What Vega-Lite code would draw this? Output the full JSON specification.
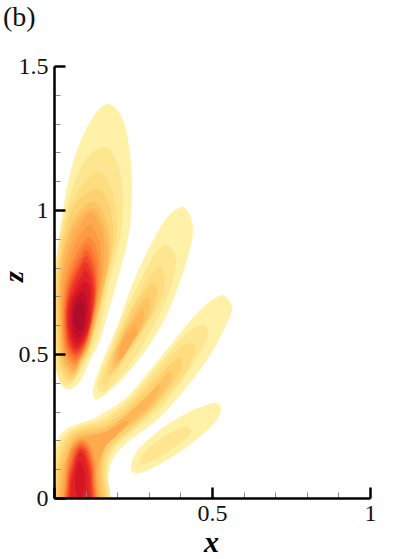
{"$schema":"https://vega.github.io/schema/vega-lite/v6.json","width":316,"height":432,"autosize":"none","padding":{"left":54,"top":66,"right":49,"bottom":61},"background":"white",
"title":{"text":"(b)","anchor":"start","frame":"group","font":"Liberation Serif","fontSize":28,"fontWeight":"normal","color":"#111111","dx":-51,"offset":22},
"config":{"view":{"stroke":null}},
"data":{"values":[
{"g":"A1","l":1,"x":0.171,"z":1.368},{"g":"A1","l":1,"x":0.215,"z":1.323},{"g":"A1","l":1,"x":0.237,"z":1.226},{"g":"A1","l":1,"x":0.247,"z":1.104},{"g":"A1","l":1,"x":0.244,"z":0.986},{"g":"A1","l":1,"x":0.231,"z":0.882},{"g":"A1","l":1,"x":0.203,"z":0.764},{"g":"A1","l":1,"x":0.171,"z":0.642},{"g":"A1","l":1,"x":0.146,"z":0.549},{"g":"A1","l":1,"x":0.114,"z":0.479},{"g":"A1","l":1,"x":0.082,"z":0.403},{"g":"A1","l":1,"x":0.044,"z":0.378},{"g":"A1","l":1,"x":0.013,"z":0.417},{"g":"A1","l":1,"x":-0.013,"z":0.549},{"g":"A1","l":1,"x":-0.013,"z":0.687},{"g":"A1","l":1,"x":0.0,"z":0.746},{"g":"A1","l":1,"x":0.009,"z":0.837},{"g":"A1","l":1,"x":0.025,"z":0.976},{"g":"A1","l":1,"x":0.044,"z":1.094},{"g":"A1","l":1,"x":0.073,"z":1.208},{"g":"A1","l":1,"x":0.123,"z":1.323},
{"g":"A2","l":2,"x":0.155,"z":1.219},{"g":"A2","l":2,"x":0.196,"z":1.174},{"g":"A2","l":2,"x":0.218,"z":1.059},{"g":"A2","l":2,"x":0.209,"z":0.896},{"g":"A2","l":2,"x":0.174,"z":0.74},{"g":"A2","l":2,"x":0.152,"z":0.618},{"g":"A2","l":2,"x":0.133,"z":0.549},{"g":"A2","l":2,"x":0.104,"z":0.479},{"g":"A2","l":2,"x":0.047,"z":0.392},{"g":"A2","l":2,"x":0.013,"z":0.427},{"g":"A2","l":2,"x":-0.003,"z":0.549},{"g":"A2","l":2,"x":-0.003,"z":0.687},{"g":"A2","l":2,"x":0.009,"z":0.844},{"g":"A2","l":2,"x":0.035,"z":0.993},{"g":"A2","l":2,"x":0.089,"z":1.156},
{"g":"A3","l":3,"x":0.139,"z":1.132},{"g":"A3","l":3,"x":0.187,"z":1.052},{"g":"A3","l":3,"x":0.199,"z":0.91},{"g":"A3","l":3,"x":0.165,"z":0.74},{"g":"A3","l":3,"x":0.142,"z":0.618},{"g":"A3","l":3,"x":0.123,"z":0.549},{"g":"A3","l":3,"x":0.098,"z":0.479},{"g":"A3","l":3,"x":0.054,"z":0.403},{"g":"A3","l":3,"x":0.019,"z":0.444},{"g":"A3","l":3,"x":0.003,"z":0.583},{"g":"A3","l":3,"x":0.003,"z":0.722},{"g":"A3","l":3,"x":0.019,"z":0.878},{"g":"A3","l":3,"x":0.057,"z":1.031},
{"g":"A4","l":4,"x":0.133,"z":1.073},{"g":"A4","l":4,"x":0.174,"z":1.017},{"g":"A4","l":4,"x":0.187,"z":0.896},{"g":"A4","l":4,"x":0.158,"z":0.722},{"g":"A4","l":4,"x":0.136,"z":0.618},{"g":"A4","l":4,"x":0.117,"z":0.542},{"g":"A4","l":4,"x":0.092,"z":0.479},{"g":"A4","l":4,"x":0.057,"z":0.413},{"g":"A4","l":4,"x":0.022,"z":0.458},{"g":"A4","l":4,"x":0.009,"z":0.61},{"g":"A4","l":4,"x":0.009,"z":0.74},{"g":"A4","l":4,"x":0.028,"z":0.896},{"g":"A4","l":4,"x":0.066,"z":1.017},
{"g":"A5","l":5,"x":0.127,"z":1.028},{"g":"A5","l":5,"x":0.168,"z":0.958},{"g":"A5","l":5,"x":0.177,"z":0.854},{"g":"A5","l":5,"x":0.152,"z":0.705},{"g":"A5","l":5,"x":0.133,"z":0.618},{"g":"A5","l":5,"x":0.114,"z":0.538},{"g":"A5","l":5,"x":0.089,"z":0.479},{"g":"A5","l":5,"x":0.06,"z":0.427},{"g":"A5","l":5,"x":0.025,"z":0.472},{"g":"A5","l":5,"x":0.013,"z":0.611},{"g":"A5","l":5,"x":0.013,"z":0.74},{"g":"A5","l":5,"x":0.032,"z":0.878},{"g":"A5","l":5,"x":0.07,"z":0.979},
{"g":"A6","l":6,"x":0.123,"z":1.007},{"g":"A6","l":6,"x":0.161,"z":0.937},{"g":"A6","l":6,"x":0.171,"z":0.826},{"g":"A6","l":6,"x":0.146,"z":0.687},{"g":"A6","l":6,"x":0.13,"z":0.611},{"g":"A6","l":6,"x":0.111,"z":0.531},{"g":"A6","l":6,"x":0.085,"z":0.479},{"g":"A6","l":6,"x":0.06,"z":0.438},{"g":"A6","l":6,"x":0.028,"z":0.486},{"g":"A6","l":6,"x":0.019,"z":0.611},{"g":"A6","l":6,"x":0.019,"z":0.74},{"g":"A6","l":6,"x":0.035,"z":0.861},{"g":"A6","l":6,"x":0.07,"z":0.958},
{"g":"A7","l":7,"x":0.12,"z":0.99},{"g":"A7","l":7,"x":0.155,"z":0.913},{"g":"A7","l":7,"x":0.158,"z":0.809},{"g":"A7","l":7,"x":0.142,"z":0.687},{"g":"A7","l":7,"x":0.127,"z":0.611},{"g":"A7","l":7,"x":0.108,"z":0.528},{"g":"A7","l":7,"x":0.082,"z":0.479},{"g":"A7","l":7,"x":0.063,"z":0.444},{"g":"A7","l":7,"x":0.032,"z":0.49},{"g":"A7","l":7,"x":0.022,"z":0.611},{"g":"A7","l":7,"x":0.022,"z":0.74},{"g":"A7","l":7,"x":0.041,"z":0.844},{"g":"A7","l":7,"x":0.076,"z":0.937},
{"g":"A8","l":8,"x":0.114,"z":0.948},{"g":"A8","l":8,"x":0.146,"z":0.878},{"g":"A8","l":8,"x":0.149,"z":0.774},{"g":"A8","l":8,"x":0.142,"z":0.722},{"g":"A8","l":8,"x":0.123,"z":0.611},{"g":"A8","l":8,"x":0.104,"z":0.528},{"g":"A8","l":8,"x":0.079,"z":0.479},{"g":"A8","l":8,"x":0.066,"z":0.458},{"g":"A8","l":8,"x":0.035,"z":0.5},{"g":"A8","l":8,"x":0.025,"z":0.611},{"g":"A8","l":8,"x":0.028,"z":0.722},{"g":"A8","l":8,"x":0.044,"z":0.809},{"g":"A8","l":8,"x":0.073,"z":0.896},
{"g":"A9","l":9,"x":0.111,"z":0.906},{"g":"A9","l":9,"x":0.139,"z":0.844},{"g":"A9","l":9,"x":0.139,"z":0.722},{"g":"A9","l":9,"x":0.122,"z":0.611},{"g":"A9","l":9,"x":0.101,"z":0.528},{"g":"A9","l":9,"x":0.066,"z":0.469},{"g":"A9","l":9,"x":0.038,"z":0.51},{"g":"A9","l":9,"x":0.028,"z":0.611},{"g":"A9","l":9,"x":0.032,"z":0.705},{"g":"A9","l":9,"x":0.047,"z":0.785},{"g":"A9","l":9,"x":0.076,"z":0.861},
{"g":"A10","l":10,"x":0.108,"z":0.882},{"g":"A10","l":10,"x":0.133,"z":0.826},{"g":"A10","l":10,"x":0.136,"z":0.722},{"g":"A10","l":10,"x":0.12,"z":0.611},{"g":"A10","l":10,"x":0.098,"z":0.528},{"g":"A10","l":10,"x":0.07,"z":0.479},{"g":"A10","l":10,"x":0.041,"z":0.517},{"g":"A10","l":10,"x":0.032,"z":0.611},{"g":"A10","l":10,"x":0.035,"z":0.694},{"g":"A10","l":10,"x":0.051,"z":0.774},{"g":"A10","l":10,"x":0.079,"z":0.844},
{"g":"A11","l":11,"x":0.104,"z":0.861},{"g":"A11","l":11,"x":0.127,"z":0.809},{"g":"A11","l":11,"x":0.133,"z":0.722},{"g":"A11","l":11,"x":0.119,"z":0.611},{"g":"A11","l":11,"x":0.098,"z":0.531},{"g":"A11","l":11,"x":0.07,"z":0.49},{"g":"A11","l":11,"x":0.044,"z":0.524},{"g":"A11","l":11,"x":0.035,"z":0.611},{"g":"A11","l":11,"x":0.038,"z":0.687},{"g":"A11","l":11,"x":0.054,"z":0.764},{"g":"A11","l":11,"x":0.082,"z":0.826},
{"g":"A12","l":12,"x":0.104,"z":0.84},{"g":"A12","l":12,"x":0.123,"z":0.792},{"g":"A12","l":12,"x":0.13,"z":0.715},{"g":"A12","l":12,"x":0.117,"z":0.611},{"g":"A12","l":12,"x":0.098,"z":0.538},{"g":"A12","l":12,"x":0.07,"z":0.5},{"g":"A12","l":12,"x":0.047,"z":0.531},{"g":"A12","l":12,"x":0.038,"z":0.611},{"g":"A12","l":12,"x":0.041,"z":0.684},{"g":"A12","l":12,"x":0.057,"z":0.75},{"g":"A12","l":12,"x":0.082,"z":0.809},
{"g":"A13","l":13,"x":0.101,"z":0.819},{"g":"A13","l":13,"x":0.12,"z":0.774},{"g":"A13","l":13,"x":0.127,"z":0.705},{"g":"A13","l":13,"x":0.115,"z":0.611},{"g":"A13","l":13,"x":0.095,"z":0.542},{"g":"A13","l":13,"x":0.07,"z":0.51},{"g":"A13","l":13,"x":0.051,"z":0.538},{"g":"A13","l":13,"x":0.041,"z":0.611},{"g":"A13","l":13,"x":0.044,"z":0.677},{"g":"A13","l":13,"x":0.06,"z":0.74},{"g":"A13","l":13,"x":0.082,"z":0.792},
{"g":"A14","l":14,"x":0.101,"z":0.792},{"g":"A14","l":14,"x":0.117,"z":0.75},{"g":"A14","l":14,"x":0.12,"z":0.705},{"g":"A14","l":14,"x":0.114,"z":0.611},{"g":"A14","l":14,"x":0.095,"z":0.549},{"g":"A14","l":14,"x":0.07,"z":0.521},{"g":"A14","l":14,"x":0.054,"z":0.549},{"g":"A14","l":14,"x":0.044,"z":0.611},{"g":"A14","l":14,"x":0.047,"z":0.67},{"g":"A14","l":14,"x":0.066,"z":0.729},{"g":"A14","l":14,"x":0.085,"z":0.767},
{"g":"A15","l":15,"x":0.098,"z":0.753},{"g":"A15","l":15,"x":0.114,"z":0.715},{"g":"A15","l":15,"x":0.108,"z":0.611},{"g":"A15","l":15,"x":0.092,"z":0.559},{"g":"A15","l":15,"x":0.073,"z":0.535},{"g":"A15","l":15,"x":0.057,"z":0.563},{"g":"A15","l":15,"x":0.051,"z":0.618},{"g":"A15","l":15,"x":0.054,"z":0.67},{"g":"A15","l":15,"x":0.07,"z":0.715},
{"g":"A16","l":16,"x":0.095,"z":0.715},{"g":"A16","l":16,"x":0.105,"z":0.681},{"g":"A16","l":16,"x":0.102,"z":0.618},{"g":"A16","l":16,"x":0.092,"z":0.576},{"g":"A16","l":16,"x":0.076,"z":0.556},{"g":"A16","l":16,"x":0.06,"z":0.583},{"g":"A16","l":16,"x":0.057,"z":0.632},{"g":"A16","l":16,"x":0.063,"z":0.677},{"g":"A16","l":16,"x":0.079,"z":0.705},
{"g":"A17","l":17,"x":0.089,"z":0.681},{"g":"A17","l":17,"x":0.096,"z":0.646},{"g":"A17","l":17,"x":0.092,"z":0.601},{"g":"A17","l":17,"x":0.079,"z":0.58},{"g":"A17","l":17,"x":0.066,"z":0.601},{"g":"A17","l":17,"x":0.063,"z":0.639},{"g":"A17","l":17,"x":0.073,"z":0.67},
{"g":"B1","l":1,"x":0.415,"z":1.007},{"g":"B1","l":1,"x":0.44,"z":0.941},{"g":"B1","l":1,"x":0.424,"z":0.837},{"g":"B1","l":1,"x":0.377,"z":0.687},{"g":"B1","l":1,"x":0.326,"z":0.573},{"g":"B1","l":1,"x":0.241,"z":0.444},{"g":"B1","l":1,"x":0.146,"z":0.347},{"g":"B1","l":1,"x":0.123,"z":0.368},{"g":"B1","l":1,"x":0.146,"z":0.455},{"g":"B1","l":1,"x":0.199,"z":0.594},{"g":"B1","l":1,"x":0.263,"z":0.781},{"g":"B1","l":1,"x":0.345,"z":0.955},{"g":"B1","l":1,"x":0.389,"z":1.003},
{"g":"B2","l":2,"x":0.361,"z":0.878},{"g":"B2","l":2,"x":0.386,"z":0.826},{"g":"B2","l":2,"x":0.367,"z":0.722},{"g":"B2","l":2,"x":0.32,"z":0.608},{"g":"B2","l":2,"x":0.25,"z":0.479},{"g":"B2","l":2,"x":0.177,"z":0.382},{"g":"B2","l":2,"x":0.152,"z":0.368},{"g":"B2","l":2,"x":0.136,"z":0.392},{"g":"B2","l":2,"x":0.168,"z":0.49},{"g":"B2","l":2,"x":0.218,"z":0.628},{"g":"B2","l":2,"x":0.282,"z":0.774},{"g":"B2","l":2,"x":0.329,"z":0.861},
{"g":"B3","l":3,"x":0.335,"z":0.802},{"g":"B3","l":3,"x":0.351,"z":0.757},{"g":"B3","l":3,"x":0.342,"z":0.698},{"g":"B3","l":3,"x":0.304,"z":0.618},{"g":"B3","l":3,"x":0.241,"z":0.503},{"g":"B3","l":3,"x":0.184,"z":0.42},{"g":"B3","l":3,"x":0.161,"z":0.392},{"g":"B3","l":3,"x":0.155,"z":0.42},{"g":"B3","l":3,"x":0.184,"z":0.514},{"g":"B3","l":3,"x":0.231,"z":0.628},{"g":"B3","l":3,"x":0.294,"z":0.757},
{"g":"B4","l":4,"x":0.313,"z":0.746},{"g":"B4","l":4,"x":0.326,"z":0.712},{"g":"B4","l":4,"x":0.31,"z":0.642},{"g":"B4","l":4,"x":0.263,"z":0.559},{"g":"B4","l":4,"x":0.209,"z":0.469},{"g":"B4","l":4,"x":0.177,"z":0.427},{"g":"B4","l":4,"x":0.171,"z":0.451},{"g":"B4","l":4,"x":0.193,"z":0.524},{"g":"B4","l":4,"x":0.241,"z":0.642},{"g":"B4","l":4,"x":0.282,"z":0.712},
{"g":"B5","l":5,"x":0.294,"z":0.698},{"g":"B5","l":5,"x":0.304,"z":0.663},{"g":"B5","l":5,"x":0.288,"z":0.608},{"g":"B5","l":5,"x":0.25,"z":0.538},{"g":"B5","l":5,"x":0.203,"z":0.462},{"g":"B5","l":5,"x":0.187,"z":0.451},{"g":"B5","l":5,"x":0.187,"z":0.49},{"g":"B5","l":5,"x":0.215,"z":0.559},{"g":"B5","l":5,"x":0.25,"z":0.635},
{"g":"B6","l":6,"x":0.278,"z":0.653},{"g":"B6","l":6,"x":0.285,"z":0.625},{"g":"B6","l":6,"x":0.266,"z":0.573},{"g":"B6","l":6,"x":0.231,"z":0.514},{"g":"B6","l":6,"x":0.199,"z":0.469},{"g":"B6","l":6,"x":0.193,"z":0.49},{"g":"B6","l":6,"x":0.215,"z":0.556},{"g":"B6","l":6,"x":0.247,"z":0.611},
{"g":"B7","l":7,"x":0.256,"z":0.601},{"g":"B7","l":7,"x":0.263,"z":0.576},{"g":"B7","l":7,"x":0.241,"z":0.531},{"g":"B7","l":7,"x":0.215,"z":0.486},{"g":"B7","l":7,"x":0.203,"z":0.49},{"g":"B7","l":7,"x":0.218,"z":0.549},{"g":"B7","l":7,"x":0.241,"z":0.583},
{"g":"C1","l":1,"x":0.541,"z":0.701},{"g":"C1","l":1,"x":0.563,"z":0.663},{"g":"C1","l":1,"x":0.548,"z":0.608},{"g":"C1","l":1,"x":0.484,"z":0.479},{"g":"C1","l":1,"x":0.399,"z":0.358},{"g":"C1","l":1,"x":0.326,"z":0.271},{"g":"C1","l":1,"x":0.241,"z":0.201},{"g":"C1","l":1,"x":0.199,"z":0.156},{"g":"C1","l":1,"x":0.174,"z":0.097},{"g":"C1","l":1,"x":0.171,"z":0.0},{"g":"C1","l":1,"x":0.171,"z":-0.059},{"g":"C1","l":1,"x":-0.028,"z":-0.059},{"g":"C1","l":1,"x":-0.028,"z":0.132},{"g":"C1","l":1,"x":0.003,"z":0.184},{"g":"C1","l":1,"x":0.019,"z":0.219},{"g":"C1","l":1,"x":0.051,"z":0.247},{"g":"C1","l":1,"x":0.114,"z":0.271},{"g":"C1","l":1,"x":0.146,"z":0.288},{"g":"C1","l":1,"x":0.231,"z":0.351},{"g":"C1","l":1,"x":0.304,"z":0.444},{"g":"C1","l":1,"x":0.389,"z":0.559},{"g":"C1","l":1,"x":0.462,"z":0.653},{"g":"C1","l":1,"x":0.516,"z":0.698},
{"g":"C2","l":2,"x":0.475,"z":0.601},{"g":"C2","l":2,"x":0.487,"z":0.576},{"g":"C2","l":2,"x":0.472,"z":0.524},{"g":"C2","l":2,"x":0.399,"z":0.399},{"g":"C2","l":2,"x":0.326,"z":0.299},{"g":"C2","l":2,"x":0.231,"z":0.215},{"g":"C2","l":2,"x":0.187,"z":0.167},{"g":"C2","l":2,"x":0.168,"z":0.097},{"g":"C2","l":2,"x":0.168,"z":-0.059},{"g":"C2","l":2,"x":-0.006,"z":-0.059},{"g":"C2","l":2,"x":-0.006,"z":0.097},{"g":"C2","l":2,"x":0.006,"z":0.167},{"g":"C2","l":2,"x":0.032,"z":0.215},{"g":"C2","l":2,"x":0.066,"z":0.243},{"g":"C2","l":2,"x":0.114,"z":0.26},{"g":"C2","l":2,"x":0.161,"z":0.278},{"g":"C2","l":2,"x":0.241,"z":0.347},{"g":"C2","l":2,"x":0.31,"z":0.437},{"g":"C2","l":2,"x":0.399,"z":0.549},{"g":"C2","l":2,"x":0.446,"z":0.59},
{"g":"C3","l":3,"x":0.437,"z":0.538},{"g":"C3","l":3,"x":0.443,"z":0.507},{"g":"C3","l":3,"x":0.421,"z":0.444},{"g":"C3","l":3,"x":0.345,"z":0.34},{"g":"C3","l":3,"x":0.272,"z":0.26},{"g":"C3","l":3,"x":0.209,"z":0.201},{"g":"C3","l":3,"x":0.177,"z":0.16},{"g":"C3","l":3,"x":0.161,"z":0.097},{"g":"C3","l":3,"x":0.161,"z":-0.059},{"g":"C3","l":3,"x":0.003,"z":-0.059},{"g":"C3","l":3,"x":0.003,"z":0.087},{"g":"C3","l":3,"x":0.016,"z":0.16},{"g":"C3","l":3,"x":0.038,"z":0.208},{"g":"C3","l":3,"x":0.066,"z":0.236},{"g":"C3","l":3,"x":0.114,"z":0.253},{"g":"C3","l":3,"x":0.161,"z":0.267},{"g":"C3","l":3,"x":0.241,"z":0.333},{"g":"C3","l":3,"x":0.32,"z":0.427},{"g":"C3","l":3,"x":0.383,"z":0.507},
{"g":"C4","l":4,"x":0.392,"z":0.486},{"g":"C4","l":4,"x":0.405,"z":0.462},{"g":"C4","l":4,"x":0.383,"z":0.41},{"g":"C4","l":4,"x":0.313,"z":0.312},{"g":"C4","l":4,"x":0.25,"z":0.247},{"g":"C4","l":4,"x":0.199,"z":0.201},{"g":"C4","l":4,"x":0.168,"z":0.16},{"g":"C4","l":4,"x":0.155,"z":0.097},{"g":"C4","l":4,"x":0.155,"z":-0.059},{"g":"C4","l":4,"x":0.009,"z":-0.059},{"g":"C4","l":4,"x":0.009,"z":0.087},{"g":"C4","l":4,"x":0.022,"z":0.149},{"g":"C4","l":4,"x":0.041,"z":0.198},{"g":"C4","l":4,"x":0.066,"z":0.226},{"g":"C4","l":4,"x":0.114,"z":0.243},{"g":"C4","l":4,"x":0.161,"z":0.253},{"g":"C4","l":4,"x":0.241,"z":0.319},{"g":"C4","l":4,"x":0.32,"z":0.41},
{"g":"C5","l":5,"x":0.361,"z":0.437},{"g":"C5","l":5,"x":0.373,"z":0.42},{"g":"C5","l":5,"x":0.351,"z":0.375},{"g":"C5","l":5,"x":0.294,"z":0.299},{"g":"C5","l":5,"x":0.234,"z":0.247},{"g":"C5","l":5,"x":0.187,"z":0.208},{"g":"C5","l":5,"x":0.161,"z":0.167},{"g":"C5","l":5,"x":0.149,"z":0.097},{"g":"C5","l":5,"x":0.149,"z":-0.059},{"g":"C5","l":5,"x":0.016,"z":-0.059},{"g":"C5","l":5,"x":0.016,"z":0.08},{"g":"C5","l":5,"x":0.028,"z":0.139},{"g":"C5","l":5,"x":0.047,"z":0.187},{"g":"C5","l":5,"x":0.07,"z":0.219},{"g":"C5","l":5,"x":0.114,"z":0.233},{"g":"C5","l":5,"x":0.161,"z":0.243},{"g":"C5","l":5,"x":0.241,"z":0.299},{"g":"C5","l":5,"x":0.304,"z":0.365},
{"g":"C6","l":6,"x":0.329,"z":0.392},{"g":"C6","l":6,"x":0.335,"z":0.382},{"g":"C6","l":6,"x":0.304,"z":0.323},{"g":"C6","l":6,"x":0.25,"z":0.271},{"g":"C6","l":6,"x":0.203,"z":0.229},{"g":"C6","l":6,"x":0.161,"z":0.177},{"g":"C6","l":6,"x":0.142,"z":0.097},{"g":"C6","l":6,"x":0.142,"z":-0.059},{"g":"C6","l":6,"x":0.022,"z":-0.059},{"g":"C6","l":6,"x":0.022,"z":0.069},{"g":"C6","l":6,"x":0.035,"z":0.132},{"g":"C6","l":6,"x":0.051,"z":0.177},{"g":"C6","l":6,"x":0.076,"z":0.212},{"g":"C6","l":6,"x":0.12,"z":0.222},{"g":"C6","l":6,"x":0.168,"z":0.236},{"g":"C6","l":6,"x":0.225,"z":0.285},{"g":"C6","l":6,"x":0.288,"z":0.347},
{"g":"C7","l":7,"x":0.225,"z":0.267},{"g":"C7","l":7,"x":0.234,"z":0.257},{"g":"C7","l":7,"x":0.193,"z":0.212},{"g":"C7","l":7,"x":0.155,"z":0.167},{"g":"C7","l":7,"x":0.136,"z":0.08},{"g":"C7","l":7,"x":0.136,"z":-0.059},{"g":"C7","l":7,"x":0.028,"z":-0.059},{"g":"C7","l":7,"x":0.028,"z":0.062},{"g":"C7","l":7,"x":0.038,"z":0.125},{"g":"C7","l":7,"x":0.054,"z":0.17},{"g":"C7","l":7,"x":0.076,"z":0.205},{"g":"C7","l":7,"x":0.12,"z":0.215},{"g":"C7","l":7,"x":0.177,"z":0.236},
{"g":"E8","l":8,"x":0.089,"z":0.205},{"g":"E8","l":8,"x":0.114,"z":0.184},{"g":"E8","l":8,"x":0.13,"z":0.132},{"g":"E8","l":8,"x":0.133,"z":0.062},{"g":"E8","l":8,"x":0.133,"z":-0.059},{"g":"E8","l":8,"x":0.035,"z":-0.059},{"g":"E8","l":8,"x":0.035,"z":0.062},{"g":"E8","l":8,"x":0.044,"z":0.139},{"g":"E8","l":8,"x":0.06,"z":0.184},
{"g":"E9","l":9,"x":0.089,"z":0.198},{"g":"E9","l":9,"x":0.111,"z":0.177},{"g":"E9","l":9,"x":0.127,"z":0.125},{"g":"E9","l":9,"x":0.13,"z":0.062},{"g":"E9","l":9,"x":0.13,"z":-0.059},{"g":"E9","l":9,"x":0.038,"z":-0.059},{"g":"E9","l":9,"x":0.038,"z":0.062},{"g":"E9","l":9,"x":0.047,"z":0.132},{"g":"E9","l":9,"x":0.063,"z":0.177},
{"g":"E10","l":10,"x":0.089,"z":0.191},{"g":"E10","l":10,"x":0.108,"z":0.17},{"g":"E10","l":10,"x":0.123,"z":0.118},{"g":"E10","l":10,"x":0.127,"z":0.062},{"g":"E10","l":10,"x":0.127,"z":-0.059},{"g":"E10","l":10,"x":0.041,"z":-0.059},{"g":"E10","l":10,"x":0.041,"z":0.062},{"g":"E10","l":10,"x":0.051,"z":0.125},{"g":"E10","l":10,"x":0.066,"z":0.17},
{"g":"E11","l":11,"x":0.085,"z":0.184},{"g":"E11","l":11,"x":0.108,"z":0.163},{"g":"E11","l":11,"x":0.12,"z":0.111},{"g":"E11","l":11,"x":0.123,"z":0.062},{"g":"E11","l":11,"x":0.123,"z":-0.059},{"g":"E11","l":11,"x":0.044,"z":-0.059},{"g":"E11","l":11,"x":0.044,"z":0.062},{"g":"E11","l":11,"x":0.054,"z":0.118},{"g":"E11","l":11,"x":0.066,"z":0.163},
{"g":"E12","l":12,"x":0.085,"z":0.177},{"g":"E12","l":12,"x":0.104,"z":0.156},{"g":"E12","l":12,"x":0.117,"z":0.104},{"g":"E12","l":12,"x":0.12,"z":0.062},{"g":"E12","l":12,"x":0.12,"z":-0.059},{"g":"E12","l":12,"x":0.047,"z":-0.059},{"g":"E12","l":12,"x":0.047,"z":0.062},{"g":"E12","l":12,"x":0.057,"z":0.111},{"g":"E12","l":12,"x":0.07,"z":0.156},
{"g":"E13","l":13,"x":0.085,"z":0.17},{"g":"E13","l":13,"x":0.101,"z":0.149},{"g":"E13","l":13,"x":0.114,"z":0.097},{"g":"E13","l":13,"x":0.117,"z":0.062},{"g":"E13","l":13,"x":0.117,"z":-0.059},{"g":"E13","l":13,"x":0.051,"z":-0.059},{"g":"E13","l":13,"x":0.051,"z":0.062},{"g":"E13","l":13,"x":0.06,"z":0.104},{"g":"E13","l":13,"x":0.07,"z":0.149},
{"g":"E14","l":14,"x":0.085,"z":0.16},{"g":"E14","l":14,"x":0.098,"z":0.139},{"g":"E14","l":14,"x":0.108,"z":0.09},{"g":"E14","l":14,"x":0.111,"z":0.045},{"g":"E14","l":14,"x":0.111,"z":-0.059},{"g":"E14","l":14,"x":0.054,"z":-0.059},{"g":"E14","l":14,"x":0.054,"z":0.045},{"g":"E14","l":14,"x":0.063,"z":0.097},{"g":"E14","l":14,"x":0.073,"z":0.139},
{"g":"E15","l":15,"x":0.082,"z":0.125},{"g":"E15","l":15,"x":0.095,"z":0.097},{"g":"E15","l":15,"x":0.098,"z":0.062},{"g":"E15","l":15,"x":0.095,"z":0.021},{"g":"E15","l":15,"x":0.082,"z":-0.007},{"g":"E15","l":15,"x":0.07,"z":0.021},{"g":"E15","l":15,"x":0.066,"z":0.062},{"g":"E15","l":15,"x":0.07,"z":0.097},
{"g":"D1","l":1,"x":0.51,"z":0.33},{"g":"D1","l":1,"x":0.529,"z":0.312},{"g":"D1","l":1,"x":0.51,"z":0.264},{"g":"D1","l":1,"x":0.44,"z":0.194},{"g":"D1","l":1,"x":0.358,"z":0.132},{"g":"D1","l":1,"x":0.282,"z":0.09},{"g":"D1","l":1,"x":0.25,"z":0.09},{"g":"D1","l":1,"x":0.244,"z":0.115},{"g":"D1","l":1,"x":0.266,"z":0.167},{"g":"D1","l":1,"x":0.335,"z":0.236},{"g":"D1","l":1,"x":0.421,"z":0.295},{"g":"D1","l":1,"x":0.484,"z":0.323},
{"g":"D2","l":2,"x":0.421,"z":0.247},{"g":"D2","l":2,"x":0.434,"z":0.229},{"g":"D2","l":2,"x":0.399,"z":0.191},{"g":"D2","l":2,"x":0.335,"z":0.142},{"g":"D2","l":2,"x":0.288,"z":0.118},{"g":"D2","l":2,"x":0.272,"z":0.125},{"g":"D2","l":2,"x":0.288,"z":0.16},{"g":"D2","l":2,"x":0.345,"z":0.212},{"g":"D2","l":2,"x":0.399,"z":0.243}
]},
"mark":{"type":"line","filled":true,"interpolate":"cardinal-closed","clip":true,"strokeWidth":0},
"encoding":{
"x":{"field":"x","type":"quantitative","scale":{"domain":[0,1],"nice":false,"zero":false},
"axis":{"values":[0,0.1,0.2,0.3,0.4,0.5,0.6,0.7,0.8,0.9,1],"grid":false,"zindex":1,"domainColor":"#000000","domainWidth":2.5,"labelExpr":"datum.value>0&&abs(datum.value*2-round(datum.value*2))<0.001?datum.value+'':''","labelFont":"Liberation Serif","labelFontSize":24,"labelColor":"#111111","labelPadding":14,"labelOverlap":false,"labelBound":false,"labelFlush":false,"tickSize":{"condition":{"test":"abs(datum.value*2-round(datum.value*2))<0.001","value":-11},"value":-6},"tickColor":{"condition":{"test":"abs(datum.value*2-round(datum.value*2))<0.001","value":"#000000"},"value":"#888888"},"tickWidth":{"condition":{"test":"abs(datum.value*2-round(datum.value*2))<0.001","value":2.5},"value":1},"title":"x","titleFont":"Liberation Serif","titleFontStyle":"italic","titleFontWeight":"bold","titleFontSize":30,"titleColor":"#000000","titleX":157,"titleY":53,"titleBaseline":"alphabetic","titleAlign":"center"}},
"y":{"field":"z","type":"quantitative","scale":{"domain":[0,1.5],"nice":false,"zero":false},
"axis":{"values":[0,0.1,0.2,0.3,0.4,0.5,0.6,0.7,0.8,0.9,1,1.1,1.2,1.3,1.4,1.5],"grid":false,"zindex":1,"domainColor":"#000000","domainWidth":2.5,"labelExpr":"abs(datum.value*2-round(datum.value*2))<0.001?datum.value+'':''","labelFont":"Liberation Serif","labelFontSize":24,"labelColor":"#111111","labelPadding":17,"labelOverlap":false,"labelBound":false,"labelFlush":false,"tickSize":{"condition":{"test":"abs(datum.value*2-round(datum.value*2))<0.001","value":-11},"value":-6},"tickColor":{"condition":{"test":"abs(datum.value*2-round(datum.value*2))<0.001","value":"#000000"},"value":"#888888"},"tickWidth":{"condition":{"test":"abs(datum.value*2-round(datum.value*2))<0.001","value":2.5},"value":1},"title":"z","titleFont":"Liberation Serif","titleFontStyle":"italic","titleFontWeight":"bold","titleFontSize":28,"titleColor":"#000000","titleX":-32,"titleY":210,"titleBaseline":"alphabetic","titleAlign":"center"}},
"color":{"field":"l","type":"ordinal","legend":null,"scale":{"domain":[1,2,3,4,5,6,7,8,9,10,11,12,13,14,15,16,17],"range":["#FFF2A8","#FEE690","#FEDC80","#FDD070","#FDC464","#FDB758","#FDAA4E","#FD9B44","#FC893B","#FB7733","#F8602C","#F34A29","#EB3426","#E02125","#D31526","#C00F28","#AE0C2B"]}},
"detail":{"field":"g"},
"order":{"value":null}
}}
